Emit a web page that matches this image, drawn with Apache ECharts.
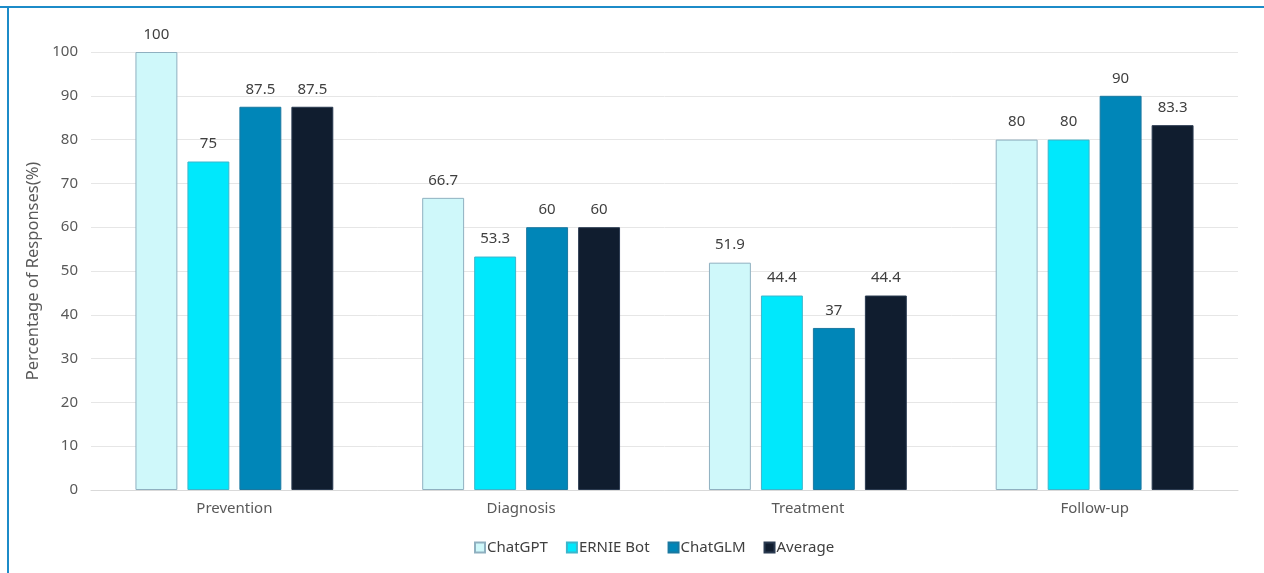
<!DOCTYPE html>
<html>
<head>
<meta charset="utf-8">
<script src="https://cdn.jsdelivr.net/npm/echarts@6/dist/echarts.min.js"></script>
<style>
  html, body { margin: 0; padding: 0; background: #fff; }
  #chart { width: 1264px; height: 573px; }
</style>
</head>
<body>
<div id="chart"></div>
<script>
var categories = ['Prevention', 'Diagnosis', 'Treatment', 'Follow-up'];
var chatgpt = [100, 66.7, 51.9, 80];
var ernie = [75, 53.3, 44.4, 80];
var chatglm = [87.5, 60, 37, 90];
var average = [87.5, 60, 44.4, 83.3];
var yTicks = { min: 0, max: 100, interval: 10 };

var chart = echarts.init(document.getElementById('chart'));
var font = 'Noto Sans';

var labelStyle = {
    show: true,
    position: 'top',
    distance: 10,
    color: '#404040',
    fontSize: 15,
    fontFamily: font
};

function bar(name, data, color, border) {
    return {
        name: name,
        type: 'bar',
        data: data,
        barGap: '24%',
        barCategoryGap: '31%',
        itemStyle: {
            color: color,
            borderColor: border,
            borderWidth: 1
        },
        label: labelStyle
    };
}

option = {
    backgroundColor: '#fff',
    animation: false,
    textStyle: { fontFamily: font },
    graphic: [
        { type: 'rect', left: 0, top: 6, shape: { width: 1264, height: 2 }, style: { fill: '#1c8bc8' } },
        { type: 'rect', left: 7, top: 6, shape: { width: 2, height: 573 }, style: { fill: '#1c8bc8' } }
    ],
    grid: { left: 91, right: 26, top: 52, bottom: 83 },
    legend: {
        top: 535,
        left: 469,
        itemWidth: 10,
        itemHeight: 10,
        itemGap: 18,
        icon: 'rect',
        textStyle: { color: '#404040', fontSize: 15, fontFamily: font, padding: [0, 0, 0, -3] },
        data: ['ChatGPT', 'ERNIE Bot', 'ChatGLM', 'Average']
    },
    xAxis: {
        type: 'category',
        data: categories,
        axisTick: { show: false },
        axisLine: { lineStyle: { color: '#d9d9d9' } },
        axisLabel: { color: '#595959', fontSize: 15, margin: 11, fontFamily: font }
    },
    yAxis: {
        type: 'value',
        min: yTicks.min,
        max: yTicks.max,
        interval: yTicks.interval,
        name: 'Percentage of Responses(%)',
        nameLocation: 'middle',
        nameGap: 41,
        nameTextStyle: { color: '#595959', fontSize: 16.5, fontFamily: font },
        axisLine: { show: false },
        axisTick: { show: false },
        axisLabel: { color: '#595959', fontSize: 15, margin: 13, fontFamily: font },
        splitLine: { lineStyle: { color: '#e6e6e6' } }
    },
    series: [
        bar('ChatGPT', chatgpt, '#cff8fa', '#8fb0c0'),
        bar('ERNIE Bot', ernie, '#00e8fc', '#3bb6cc'),
        bar('ChatGLM', chatglm, '#0086b8', '#1a78a0'),
        bar('Average', average, '#101d2f', '#2a3a50')
    ]
};

chart.setOption(option);
</script>
</body>
</html>
